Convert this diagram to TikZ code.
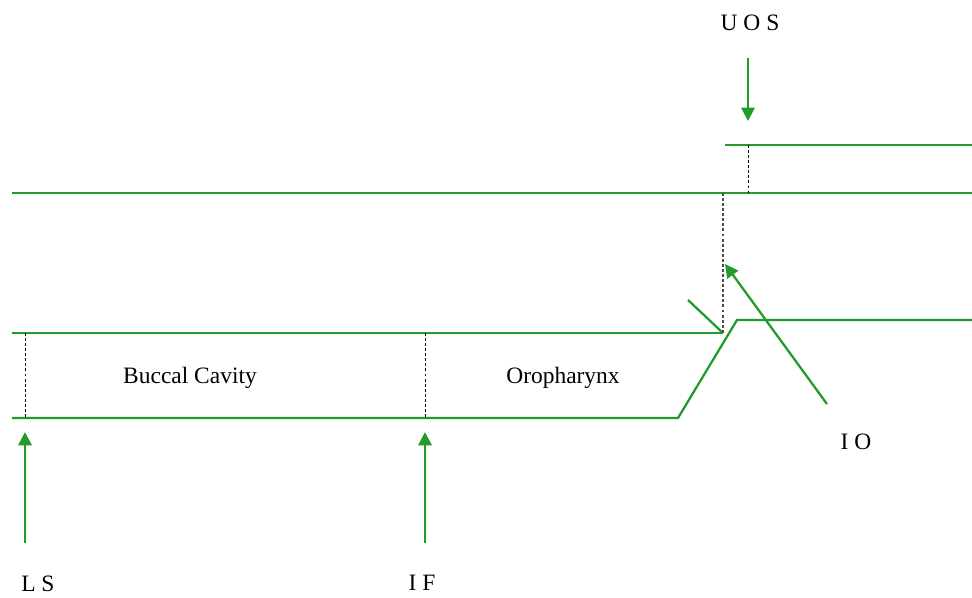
\documentclass[tikz,border=0pt]{standalone}
\usepackage{fontspec}
\setmainfont{Liberation Serif}
\usetikzlibrary{arrows.meta}
\definecolor{tubegreen}{RGB}{34,155,42}
\tikzset{
  wall/.style    = {draw=tubegreen, line width=1.7pt},
  pointer/.style = {-{Triangle[length=10pt, width=10pt]}, draw=tubegreen, line width=1.7pt},
  marker/.style  = {dash pattern=on 2.2pt off 1.6pt, black, line width=0.6pt},
  lbl/.style     = {font=\fontsize{17.6}{20}\selectfont, inner sep=0pt},
}
\begin{document}
\begin{tikzpicture}[x=0.75pt, y=-0.75pt]
  \useasboundingbox (0,0) rectangle (972,597);
  % tube walls
  \draw[wall] (12,193) -- (972,193);
  \draw[wall] (725,145) -- (972,145);
  \draw[wall] (12,333) -- (723,333);
  \draw[wall] (12,418) -- (678,418) -- (737,320) -- (972,320);
  \draw[wall] (688,300) -- (723,333);
  % section marks
  \coordinate (lstop) at (25,333);
  \coordinate (lsbot) at (25,418);
  \coordinate (iftop) at (425,333);
  \coordinate (ifbot) at (425,418);
  \coordinate (ostop) at (723,193);
  \coordinate (osbot) at (723,333);
  \coordinate (uostop) at (748,145);
  \coordinate (uosbot) at (748,193);
  \draw[marker] (lstop) -- (lsbot);
  \draw[marker] (iftop) -- (ifbot);
  \draw[marker, black!70, line width=1pt] (ostop) -- (osbot);
  \draw[marker] (uostop) -- (uosbot);
  % labels
  \node[lbl, anchor=base] (buccal) at (190,383) {Buccal Cavity};
  \node[lbl, anchor=base] (oro) at (563,383) {Oropharynx};
  \node[lbl, anchor=base] (uos) at (750,30) {U O S};
  \node[lbl, anchor=base] (io) at (856,449) {I O};
  \node[lbl, anchor=base west] (ls) at (21,591) {L S};
  \node[lbl, anchor=base] (if) at (422,590) {I F};
  % pointers
  \coordinate (uostail) at (748,58);
  \coordinate (uostip) at (748,121);
  \coordinate (iotail) at (827,404);
  \coordinate (iotip) at (725,264);
  \coordinate (lstail) at (25,543);
  \coordinate (lstip) at (25,432);
  \coordinate (iftail) at (425,543);
  \coordinate (iftip) at (425,432);
  \draw[pointer] (uostail) -- (uostip);
  \draw[pointer] (iotail) -- (iotip);
  \draw[pointer] (lstail) -- (lstip);
  \draw[pointer] (iftail) -- (iftip);
\end{tikzpicture}
\end{document}
